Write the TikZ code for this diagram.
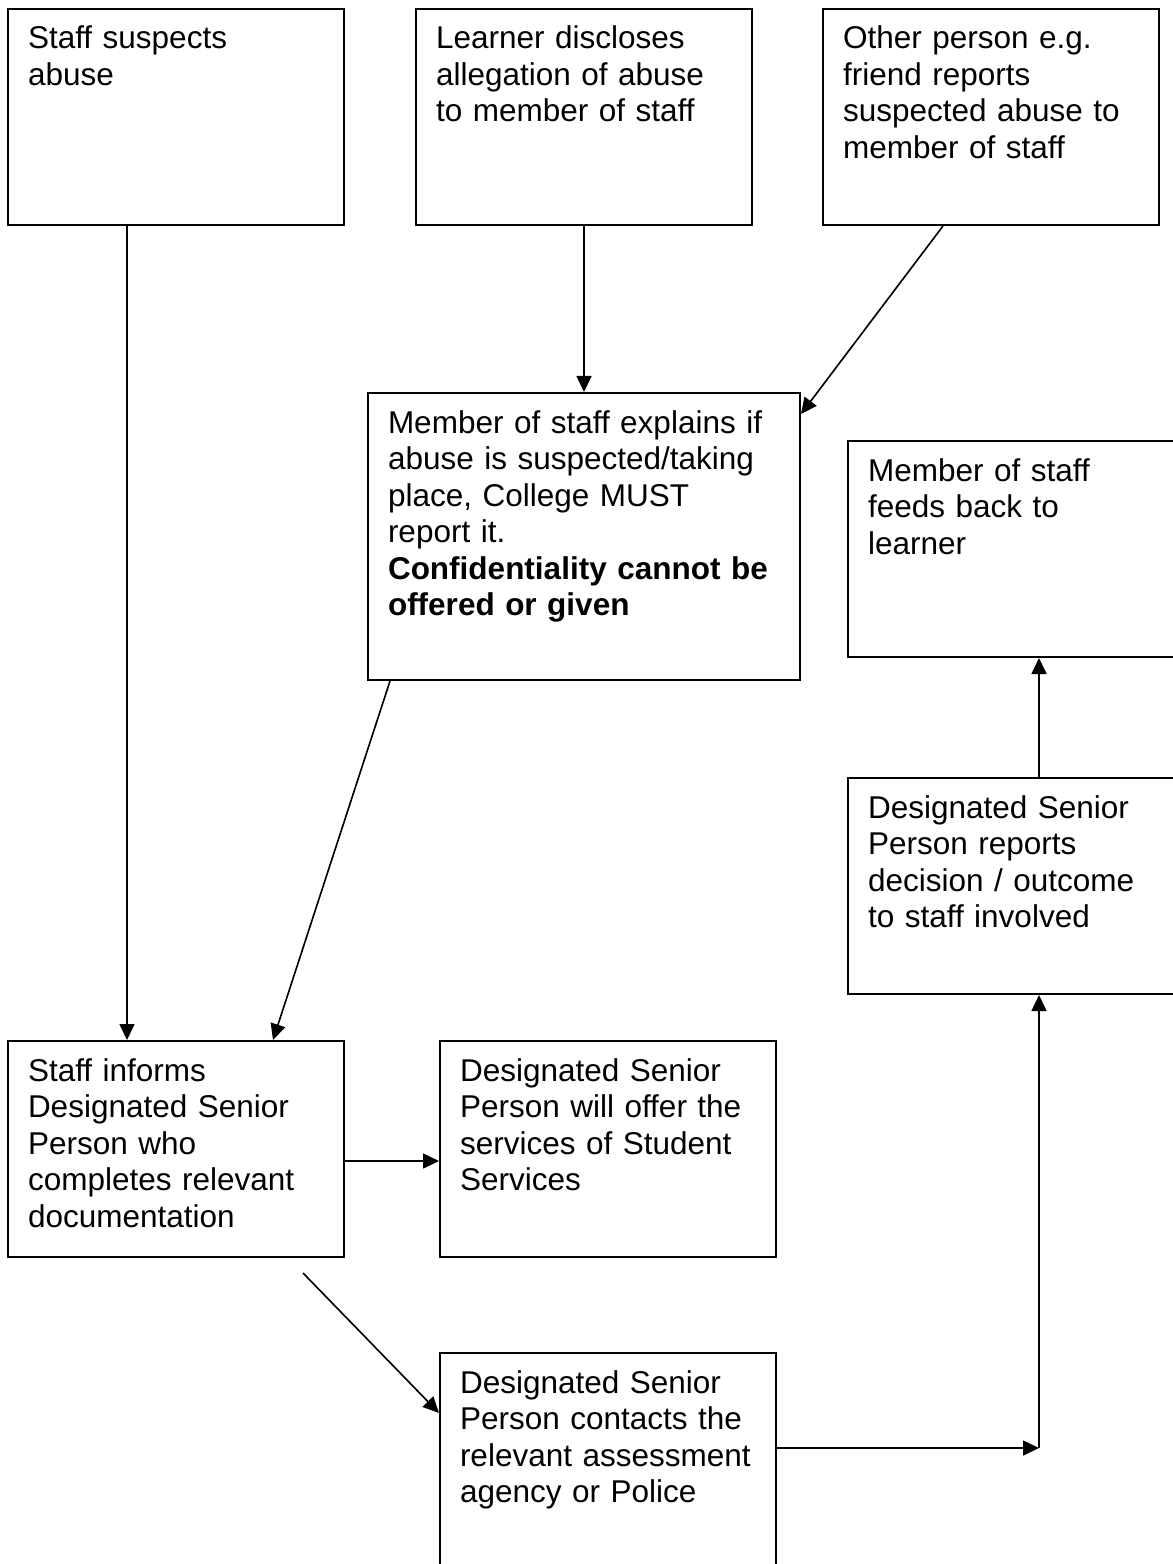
\documentclass[tikz,border=0pt]{standalone}
\usepackage{fontspec}
\setmainfont{Liberation Sans}
\usetikzlibrary{arrows.meta}

\begin{document}
\begin{tikzpicture}[x=0.4pt, y=-0.4pt,
	>={Triangle[length=6.4pt,width=6pt]},
	boite/.style={draw, line width=0.8pt, anchor=north west, align=left,
		inner xsep=8pt, inner ysep=6.5pt, text width=118.4pt,
		text height=9.5pt, text depth=63.9pt,
		font=\fontsize{12.6}{14.6}\selectfont},
	fleche/.style={->, line width=0.65pt}]

				\useasboundingbox (0, 0) rectangle (1172, 1564);

				% boite personnel soupconne
				\node[boite] (staff) at (7, 8) {Staff suspects\\abuse};

				% boite apprenant
				\node[boite] (learner) at (415, 8) {Learner discloses\\allegation of abuse\\to member of staff};

				% boite autre personne
				\node[boite] (other) at (822, 8) {Other person e.g.\\friend reports\\suspected abuse to\\member of staff};

				% boite explication confidentialite
				\node[boite, text width=156.8pt, text depth=92.3pt] (explain) at (367, 392) {Member of staff explains if\\abuse is suspected/taking\\place, College MUST\\report it.\\\textbf{Confidentiality cannot be}\\\textbf{offered or given}};

				% boite retour apprenant
				\node[boite] (feedback) at (847, 440) {Member of staff\\feeds back to\\learner};

				% boite rapport decision
				\node[boite] (report) at (847, 777) {Designated Senior\\Person reports\\decision / outcome\\to staff involved};

				% boite informe DSP
				\node[boite] (inform) at (7, 1040) {Staff informs\\Designated Senior\\Person who\\completes relevant\\documentation};

				% boite services etudiants
				\node[boite] (services) at (439, 1040) {Designated Senior\\Person will offer the\\services of Student\\Services};

				% boite contact agence
				\node[boite] (contact) at (439, 1352) {Designated Senior\\Person contacts the\\relevant assessment\\agency or Police};

				% fleche personnel -> informe
				\draw[fleche] ([xshift=48pt]staff.south west) -- ([xshift=48pt]inform.north west);

				% fleche apprenant -> explication
				\draw[fleche] (learner.south) -- (explain.north);

				% fleche autre personne -> explication
				\draw[fleche] ([xshift=48.4pt]other.south west) -- ([yshift=-8.8pt]explain.north east);

				% fleche explication -> informe
				\draw[fleche] ([xshift=9.2pt]explain.south west) -- ([xshift=106.4pt]inform.north west);

				% fleche informe -> services
				\draw[fleche] ([yshift=-4.8pt]inform.east) -- ([yshift=-4.8pt]services.west);

				% fleche vers contact
				\coordinate (depart) at (303, 1273);
				\draw[fleche] (depart) -- ([yshift=-24.4pt]contact.north west);

				% fleches contact -> rapport
				\coordinate (coin) at (1039, 1448);
				\draw[fleche] (contact.east |- coin) -- (coin);
				\draw[fleche] (coin) -- (coin |- report.south);

				% fleche rapport -> retour
				\draw[fleche] (coin |- report.north) -- (coin |- feedback.south);
			\end{tikzpicture}
\end{document}
